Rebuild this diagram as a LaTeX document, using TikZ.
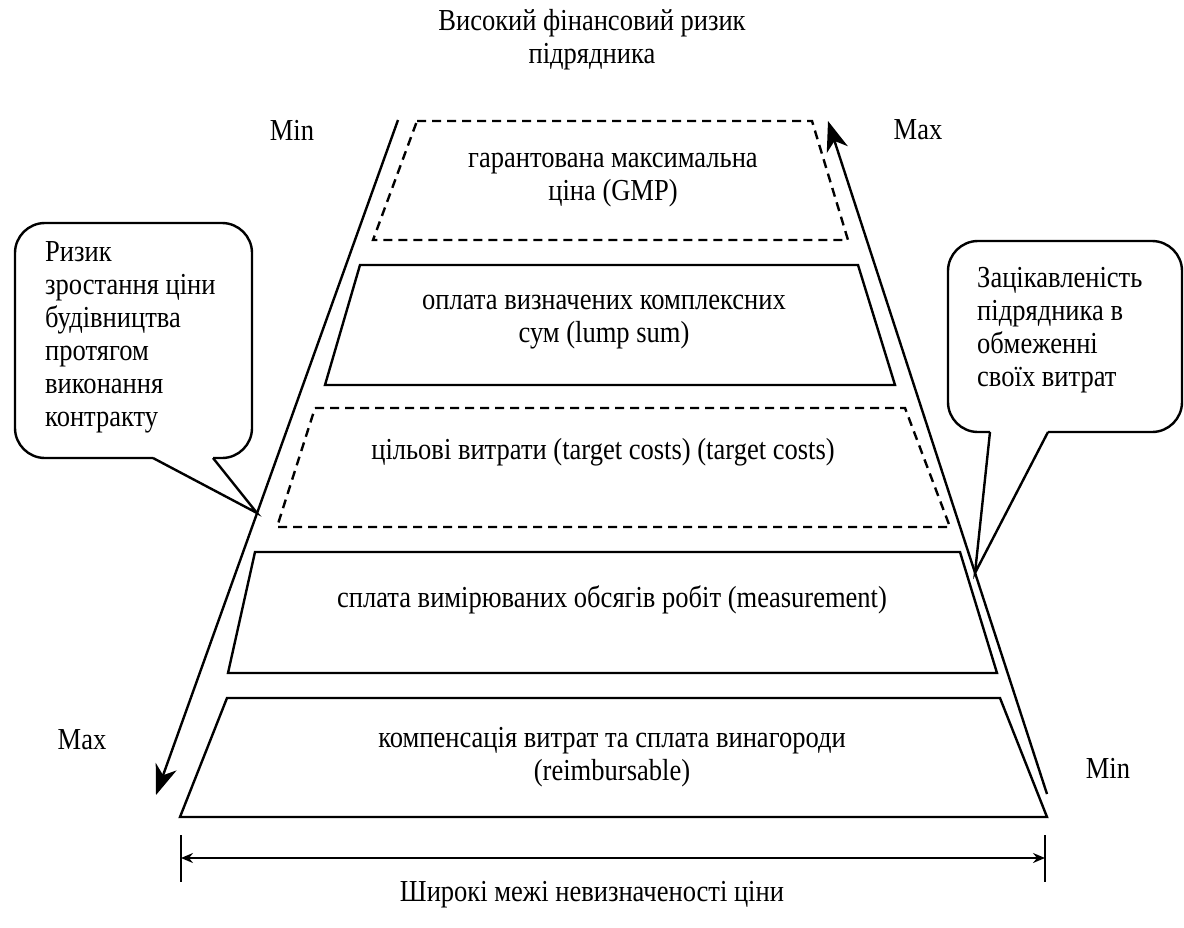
\documentclass[tikz,border=0pt]{standalone}
\usepackage{fontspec}
\setmainfont[FakeStretch=0.87]{Liberation Serif}
\usetikzlibrary{arrows.meta}
\begin{document}
\begin{tikzpicture}[x=1pt,y=-1pt,
  lay/.style={line width=2.4pt, line join=miter},
  laydash/.style={line width=2.4pt, dash pattern=on 9pt off 6pt},
  bigarrow/.style={line width=2.4pt, -{Stealth[length=30pt,width=22pt,inset=9pt]}},
  txt/.style={font=\fontsize{30.5}{33}\selectfont, inner sep=0pt, align=center},
  ctxt/.style={font=\fontsize{30.5}{33}\selectfont, inner sep=0pt, align=left, anchor=north west},
  call/.style={line width=2.4pt},
  dim/.style={line width=2.2pt}]
\useasboundingbox (0,0) rectangle (1184,927);
% title
\node[txt] (title) at (592,40) {Високий фінансовий ризик\\підрядника};
% layers
\draw[laydash] (417,121) -- (812,121) -- (848,240) -- (373,240) -- cycle;
\draw[lay] (360,265) -- (858,265) -- (895,385) -- (325,385) -- cycle;
\draw[laydash] (315,408) -- (905,408) -- (950,527) -- (277,527) -- cycle;
\draw[lay] (255,552) -- (960,552) -- (997,673) -- (228,673) -- cycle;
\draw[lay] (227,698) -- (1000,698) -- (1047,817) -- (180,817) -- cycle;
\node[txt] (l1) at (613,180) {гарантована максимальна\\ціна (GMP)};
\node[txt] (l2) at (604,322) {оплата визначених комплексних\\сум (lump sum)};
\node[txt] (l3) at (603,452) {цільові витрати (target costs) (target costs)};
\node[txt] (l4) at (612,600) {сплата вимірюваних обсягів робіт (measurement)};
\node[txt] (l5) at (612,757) {компенсація витрат та сплата винагороди\\(reimbursable)};
% side arrows
\coordinate (aLtop) at (398,120);
\coordinate (aLbot) at (156,795);
\coordinate (aRbot) at (1047,794);
\coordinate (aRtop) at (828,121);
\draw[bigarrow] (aLtop) -- (aLbot);
\draw[bigarrow] (aRbot) -- (aRtop);
\node[txt] (minL) at (292,130) {Min};
\node[txt] (maxR) at (918,130) {Max};
\node[txt] (maxL) at (82,740) {Max};
\node[txt] (minR) at (1108,768) {Min};
% left callout
\coordinate (cLtip) at (257,513);
\draw[call] (213,458) -- (cLtip) -- (153,458);
\draw[call, rounded corners=30pt] (153,458) -- (15,458) -- (15,223) -- (252,223) -- (252,458) -- (213,458);
\node[ctxt] (cLt) at (45,241) {Ризик\\зростання ціни\\будівництва\\протягом\\виконання\\контракту};
% right callout
\coordinate (cRtip) at (975,573);
\draw[call] (1048,432) -- (cRtip) -- (990,432);
\draw[call, rounded corners=30pt] (990,432) -- (948,432) -- (948,241) -- (1182,241) -- (1182,432) -- (1048,432);
\node[ctxt] (cRt) at (977,267) {Зацікавленість\\підрядника в\\обмеженні\\своїх витрат};
% dimension line
\coordinate (dL) at (181,858);
\coordinate (dR) at (1045,858);
\draw[dim] (181,835) -- (181,882);
\draw[dim] (1045,835) -- (1045,882);
\draw[dim, {Stealth[length=12pt,width=10pt,inset=4pt]}-{Stealth[length=12pt,width=10pt,inset=4pt]}] (dL) -- (dR);
\node[txt] (bottom) at (592,895) {Широкі межі невизначеності ціни};
\end{tikzpicture}
\end{document}
